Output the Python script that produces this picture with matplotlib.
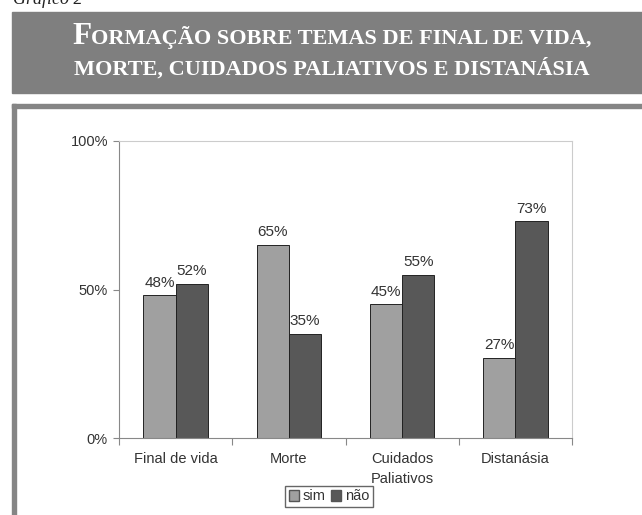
import matplotlib
matplotlib.use("Agg")
import matplotlib.pyplot as plt
import numpy as np
from matplotlib.patches import Rectangle, Patch

# dados do gráfico
categorias = ["Final de vida", "Morte", "Cuidados\nPaliativos", "Distanásia"]
sim = [48, 65, 45, 27]
nao = [52, 35, 55, 73]
series = ["sim", "não"]
yticks = [0, 50, 100]

W, H = 642, 515
fig = plt.figure(figsize=(W / 100, H / 100), dpi=100)
fig.patch.set_facecolor("white")

def fx(px):
    return px / W

def fy(py):
    return 1 - py / H

# faixa do titulo e moldura
fig.patches.append(Rectangle((fx(12), fy(93)), 1 - fx(12), fy(12) - fy(93),
                             transform=fig.transFigure, color="#7f7f7f", zorder=0))
fig.patches.append(Rectangle((fx(12), fy(515)), fx(4), fy(104) - fy(515),
                             transform=fig.transFigure, color="#858585", zorder=0))
fig.patches.append(Rectangle((fx(12), fy(108)), 1 - fx(12), fy(104) - fy(108),
                             transform=fig.transFigure, color="#858585", zorder=0))

fig.text(fx(13), fy(4), "Gráfico 2", family="Liberation Serif", style="italic",
         size=13, color="#222222", va="baseline")

# titulo em versaletes
serif = "Liberation Serif"
big, small = 22.5, 16
renderer = fig.canvas.get_renderer()

def versalete(parts, y, cx=332):
    txts = []
    for s, sz in parts:
        txts.append(fig.text(0, fy(y), s, family=serif, size=sz, color="white",
                             weight="bold", va="baseline", ha="left"))
    widths = [t.get_window_extent(renderer).width for t in txts]
    x = cx - sum(widths) / 2
    for t, w in zip(txts, widths):
        t.set_x(fx(x))
        x += w

versalete([("F", big), ("ORMAÇÃO SOBRE TEMAS DE FINAL DE VIDA,", small)], 44)
versalete([("MORTE, CUIDADOS PALIATIVOS E DISTANÁSIA", small)], 75)

# grafico de barras
ax = fig.add_axes([fx(119), fy(438), fx(572) - fx(119), fy(141) - fy(438)])
x = np.arange(len(categorias))
w = 0.285
b1 = ax.bar(x - w / 2, sim, w, color="#a0a0a0", edgecolor="#222222", linewidth=0.7, label=series[0])
b2 = ax.bar(x + w / 2, nao, w, color="#585858", edgecolor="#222222", linewidth=0.7, label=series[1])

for bars, vals in ((b1, sim), (b2, nao)):
    for r, v in zip(bars, vals):
        ax.annotate(f"{v}%", (r.get_x() + r.get_width() / 2, v), xytext=(0, 4),
                    textcoords="offset points", ha="center", va="bottom",
                    family="Liberation Sans", size=11, color="#333333")

ax.set_xlim(-0.5, len(categorias) - 0.5)
ax.set_ylim(0, 100)
ax.set_yticks(yticks)
ax.set_yticklabels([f"{t}%" for t in yticks], family="Liberation Sans", size=10.5, color="#333333")
ax.set_xticks(np.arange(len(categorias) + 1) - 0.5)
ax.set_xticklabels([])
ax.set_xticks(x, minor=True)
ax.set_xticklabels(categorias, minor=True, family="Liberation Sans", size=10.5,
                   color="#333333", linespacing=1.55, va="top")
ax.tick_params(axis="x", which="minor", length=0, pad=10)
ax.tick_params(axis="x", which="major", length=5, color="#888888", direction="out")
ax.tick_params(axis="y", length=4, color="#888888", pad=4)

for s in ("left", "bottom"):
    ax.spines[s].set_color("#888888")
for s in ("top", "right"):
    ax.spines[s].set_color("#cccccc")

fig.legend(handles=[Patch(facecolor="#a0a0a0", edgecolor="#555555", label=series[0]),
                    Patch(facecolor="#585858", edgecolor="#555555", label=series[1])],
           loc="center", bbox_to_anchor=(fx(329), fy(496.5)), ncol=2,
           prop={"family": "Liberation Sans", "size": 10.5},
           handlelength=0.7, handleheight=0.7, handletextpad=0.25, columnspacing=0.4,
           borderpad=0.25, fancybox=False, edgecolor="#666666", framealpha=1,
           labelcolor="#333333")

fig.savefig("out.png", dpi=100)
